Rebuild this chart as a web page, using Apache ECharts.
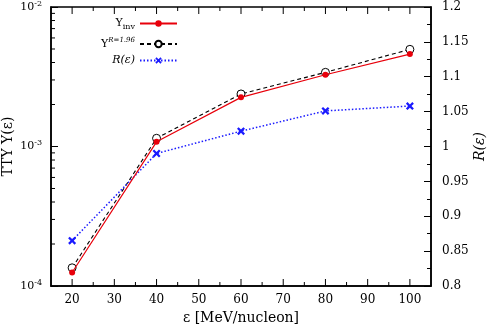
<!DOCTYPE html>
<html>
<head>
<meta charset="utf-8">
<script src="https://cdn.jsdelivr.net/npm/echarts@6/dist/echarts.min.js"></script>
<style>
  html, body { margin: 0; padding: 0; background: #fff; }
  #main { width: 489px; height: 328px; }
</style>
</head>
<body>
<div id="main"></div>
<script>
// 数据（从图上读出来的）
const energies = [20, 40, 60, 80, 100];
const yInv = [1.25e-4, 1.08e-3, 2.25e-3, 3.27e-3, 4.60e-3];
const yR196 = [1.35e-4, 1.145e-3, 2.38e-3, 3.40e-3, 4.97e-3];
const ratio = [0.865, 0.99, 1.022, 1.051, 1.058];

// 刻度
const xMajorTicks = [20, 30, 40, 50, 60, 70, 80, 90, 100];
const xMinorTicks = [25, 35, 45, 55, 65, 75, 85, 95];
const logMinorTicks = [2e-4, 3e-4, 4e-4, 5e-4, 6e-4, 7e-4, 8e-4, 9e-4,
  2e-3, 3e-3, 4e-3, 5e-3, 6e-3, 7e-3, 8e-3, 9e-3];

const FONT = "DejaVu Serif";
const chart = echarts.init(document.getElementById("main"));

// x 轴刻度（上下两边都画）
function xTickSeries(ticks, len) {
  return {
    type: "custom",
    xAxisIndex: 0,
    yAxisIndex: 0,
    silent: true,
    clip: false,
    z: 5,
    data: ticks.map((v) => [v, 1e-3]),
    renderItem: (params, api) => {
      const b = api.coord([api.value(0), 1e-4]);
      const t = api.coord([api.value(0), 1e-2]);
      return {
        type: "group",
        children: [
          { type: "line", shape: { x1: b[0], y1: b[1], x2: b[0], y2: b[1] - len }, style: { stroke: "#000", lineWidth: 1 } },
          { type: "line", shape: { x1: t[0], y1: t[1], x2: t[0], y2: t[1] + len }, style: { stroke: "#000", lineWidth: 1 } },
        ],
      };
    },
  };
}

const option = {
  animation: false,
  backgroundColor: "#fff",
  grid: {
    left: 51, right: 58, top: 7, bottom: 42,
    outerBoundsMode: "none", containLabel: false,
    show: true, borderColor: "#000", borderWidth: 1.5, backgroundColor: "transparent",
  },
  legend: [
    {
      data: ["Yinv"], right: 306, top: 13, align: "right", itemWidth: 37, itemHeight: 8,
      formatter: () => "Y{sub|inv}",
      textStyle: { fontFamily: FONT, fontSize: 11, color: "#000", rich: { sub: { fontFamily: FONT, fontSize: 8, padding: [6, 0, 0, 0] } } },
    },
    {
      data: ["YR"], right: 306, top: 32, align: "right", itemWidth: 37, itemHeight: 8,
      formatter: () => "Y{sup|R=1.96}",
      textStyle: { fontFamily: FONT, fontSize: 11, color: "#000", rich: { sup: { fontFamily: FONT, fontSize: 7, fontStyle: "italic", padding: [0, 0, 7, 0] } } },
    },
    {
      data: ["R"], right: 306, top: 50, align: "right", itemWidth: 37, itemHeight: 8,
      formatter: () => "R(ε)",
      textStyle: { fontFamily: FONT, fontSize: 11, fontStyle: "italic", color: "#000" },
    },
  ],
  xAxis: {
    type: "value",
    min: 15,
    max: 105,
    interval: 5,
    name: "ε [MeV/nucleon]",
    nameLocation: "middle",
    nameGap: 25,
    nameMoveOverlap: false,
    nameTextStyle: { fontFamily: FONT, fontSize: 14, color: "#000" },
    axisLine: { lineStyle: { color: "#000", width: 1.5 } },
    axisTick: { show: false },
    splitLine: { show: false },
    axisLabel: {
      fontFamily: FONT, fontSize: 12, color: "#000", margin: 8,
      formatter: (v) => (v % 10 === 0 ? String(v) : ""),
    },
  },
  yAxis: [
    {
      type: "log",
      logBase: 10,
      min: 1e-4,
      max: 1e-2,
      name: "TTY Y(ε)",
      nameLocation: "middle",
      nameGap: 36,
      nameRotate: 90,
      nameMoveOverlap: false,
      nameTextStyle: { fontFamily: FONT, fontSize: 14, color: "#000" },
      axisLine: { show: true, lineStyle: { color: "#000", width: 1.5 } },
      axisTick: { show: true, inside: true, length: 7, lineStyle: { color: "#000" } },
      splitLine: { show: false },
      axisLabel: {
        fontFamily: FONT, fontSize: 11, color: "#000", margin: 9,
        formatter: (v) => "10{sup|" + Math.round(Math.log10(v)) + "}",
        rich: { sup: { fontFamily: FONT, fontSize: 8, padding: [0, 0, 7, 0] } },
      },
    },
    {
      type: "value",
      position: "right",
      min: 0.8,
      max: 1.2,
      interval: 0.05,
      name: "R(ε)",
      nameLocation: "middle",
      nameGap: 42,
      nameRotate: 90,
      nameMoveOverlap: false,
      nameTextStyle: { fontFamily: FONT, fontSize: 14, fontStyle: "italic", color: "#000" },
      axisLine: { show: true, lineStyle: { color: "#000", width: 1.5 } },
      axisTick: { show: true, inside: true, length: 7, lineStyle: { color: "#000" } },
      minorTick: { show: true, splitNumber: 2, length: 4, lineStyle: { color: "#000" } },
      splitLine: { show: false },
      axisLabel: { fontFamily: FONT, fontSize: 12, color: "#000", margin: 11 },
    },
  ],
  series: [
    {
      name: "Yinv",
      type: "line",
      yAxisIndex: 0,
      data: energies.map((e, i) => [e, yInv[i]]),
      symbol: "circle",
      symbolSize: 6,
      itemStyle: { color: "#e8000b" },
      lineStyle: { color: "#e8000b", width: 1.2 },
      z: 3,
    },
    {
      name: "YR",
      type: "line",
      yAxisIndex: 0,
      data: energies.map((e, i) => [e, yR196[i]]),
      symbol: "circle",
      symbolSize: 8,
      itemStyle: { color: "#fff", borderColor: "#000", borderWidth: 1 },
      lineStyle: { color: "#000", width: 1.1, type: [4, 3] },
      z: 2,
    },
    {
      name: "R",
      type: "line",
      yAxisIndex: 1,
      data: energies.map((e, i) => [e, ratio[i]]),
      symbol: "path://M0,2L2,0L5,3L8,0L10,2L7,5L10,8L8,10L5,7L2,10L0,8L3,5Z",
      symbolSize: 8,
      itemStyle: { color: "#1a1aff" },
      lineStyle: { color: "#1a1aff", width: 1.5, type: [1.5, 2] },
      z: 2,
    },
    xTickSeries(xMajorTicks, 7),
    xTickSeries(xMinorTicks, 4),
    {
      // 对数轴的次刻度
      type: "custom",
      xAxisIndex: 0,
      yAxisIndex: 0,
      silent: true,
      clip: false,
      z: 5,
      data: logMinorTicks.map((v) => [15, v]),
      renderItem: (params, api) => {
        const p = api.coord([15, api.value(1)]);
        return { type: "line", shape: { x1: p[0], y1: p[1], x2: p[0] + 4, y2: p[1] }, style: { stroke: "#000", lineWidth: 1 } };
      },
    },
  ],
};

chart.setOption(option);
</script>
</body>
</html>
